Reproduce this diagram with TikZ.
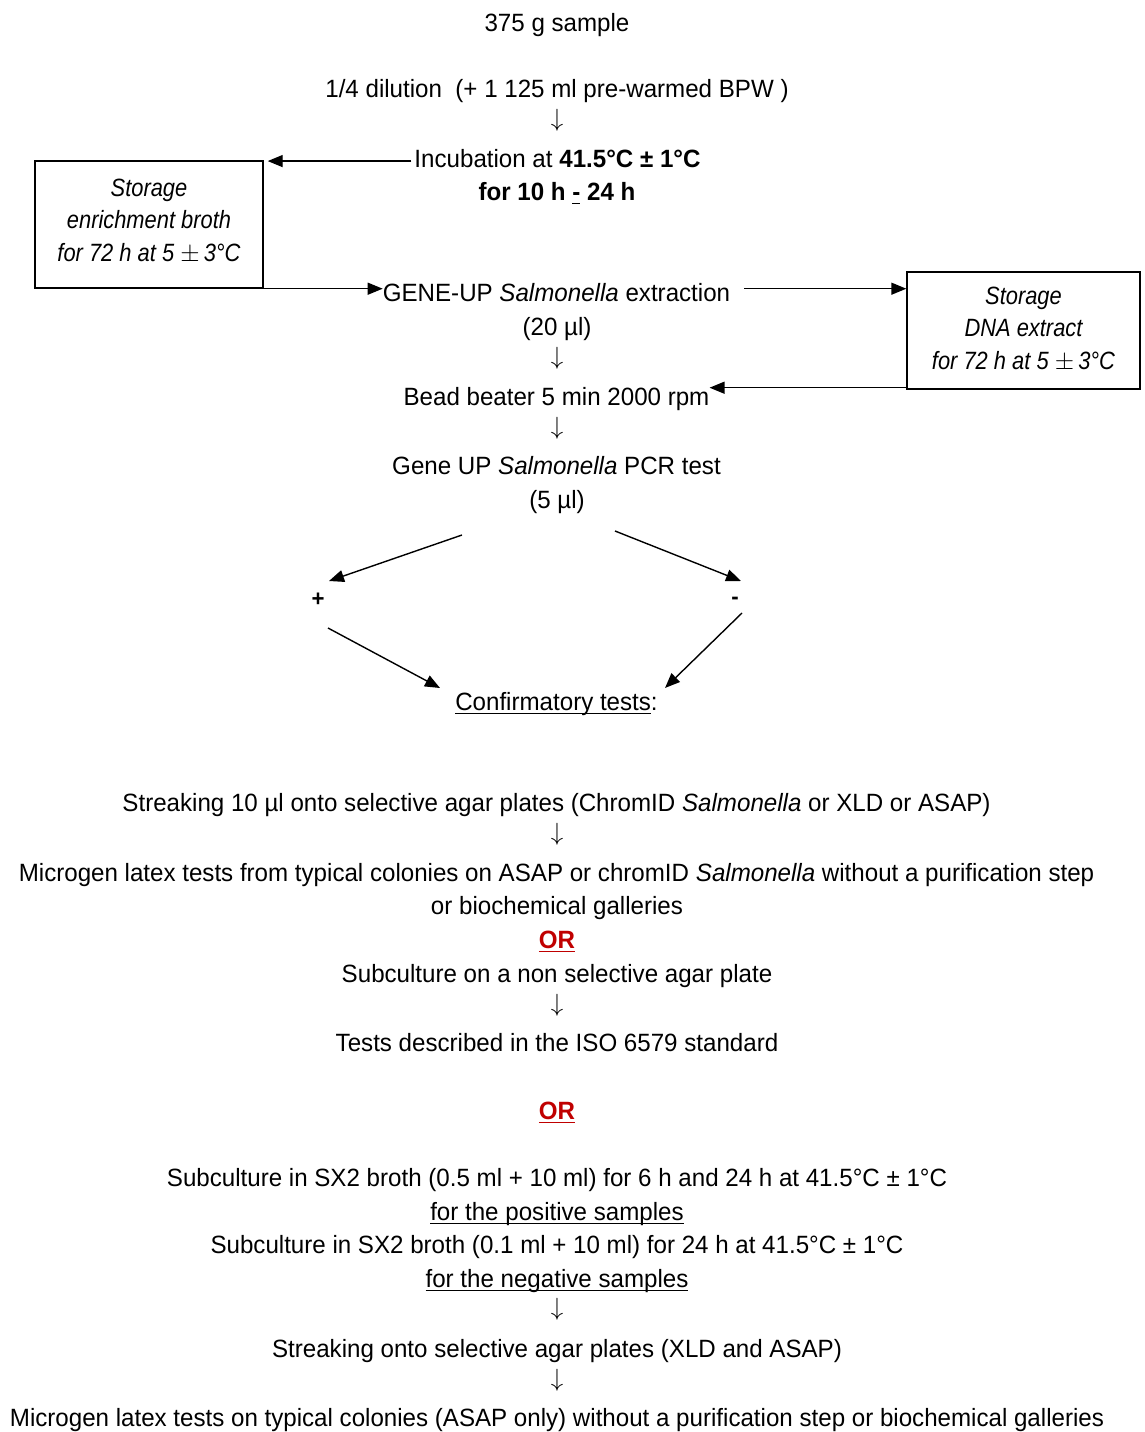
\documentclass[tikz,border=0pt]{standalone}
\usepackage{fontspec}
\setmainfont{Liberation Sans}[FakeStretch=0.965]
\newfontfamily\boxfont{Liberation Sans}[FakeStretch=0.875]
\usetikzlibrary{arrows.meta}
\newcommand\fs{\fontsize{25}{33}\selectfont}
\newcommand\myul[1]{\leavevmode\setbox0\hbox{#1}\rlap{\vrule height -2.6pt depth 4.3pt width \wd0}\box0\relax}
\definecolor{orred}{HTML}{C00000}
\begin{document}
\begin{tikzpicture}[x=1pt,y=-1pt,
  t/.style={inner sep=0pt, anchor=base, font=\fs},
  da/.style={inner sep=0pt, font=\fontsize{29}{29}\selectfont},
  sg/.style={inner sep=0pt, font=\fontsize{23}{23}\selectfont\bfseries},
  box/.style={draw, line width=1.4pt, inner sep=0pt, align=center, font=\boxfont\fontsize{25}{32.5}\selectfont\itshape},
  arr/.style={-{Triangle[length=15pt,width=12pt]}, line width=1.4pt},
  ortxt/.style={t, text=orred, font=\fs\bfseries}]
\useasboundingbox (0,0) rectangle (1144,1432);
\fill[white] (0,0) rectangle (1144,1432);

\node[t] (sample) at (557,31) {375 g sample};
\node[t] (dil) at (557,97) {1/4 dilution\ \ (+ 1 125 ml pre-warmed BPW )};
\node[da] (d1) at (557,120) {$\downarrow$};
\node[t] (inc1) at (557.5,167) {Incubation at \textbf{41.5°C ± 1°C}};
\node[t] (inc2) at (557,200) {\textbf{for 10 h \myul{-} 24 h}};
\node[box, minimum width=228pt, minimum height=127pt] (lbox) at (149,224.5) {Storage\\enrichment broth\\for 72 h at 5 $\pm$\,3°C\rule[-9pt]{0pt}{1pt}};
\node[t] (gene1) at (556.5,301) {GENE-UP \textit{Salmonella} extraction};
\node[t] (gene2) at (557,335) {(20 µl)};
\node[da] (d2) at (557,358) {$\downarrow$};
\node[box, minimum width=233pt, minimum height=117pt] (rbox) at (1023.5,330.5) {Storage\\DNA extract\\for 72 h at 5 $\pm$\,3°C\rule[-5pt]{0pt}{1pt}};
\node[t] (bead) at (556.5,405) {Bead beater 5 min 2000 rpm};
\node[da] (d3) at (557,428) {$\downarrow$};
\node[t] (pcr1) at (556.5,474) {Gene UP \textit{Salmonella} PCR test};
\node[t] (pcr2) at (557,508) {(5 µl)};
\node[sg] (plus) at (318,600) {+};
\node[sg] (minus) at (735,601) {-};
\node[t] (conf) at (556.5,710) {\myul{Confirmatory tests}:};

\node[t] (str1) at (556.5,811) {Streaking 10 µl onto selective agar plates (ChromID \textit{Salmonella} or XLD or ASAP)};
\node[da] (d4) at (557,834) {$\downarrow$};
\node[t] (mic1) at (556.5,881) {Microgen latex tests from typical colonies on ASAP or chromID \textit{Salmonella} without a purification step};
\node[t] (mic2) at (557,914) {or biochemical galleries};
\node[ortxt] (or1) at (557,948) {\myul{OR}};
\node[t] (sub) at (557,982) {Subculture on a non selective agar plate};
\node[da] (d5) at (557,1005) {$\downarrow$};
\node[t] (iso) at (557,1051) {Tests described in the ISO 6579 standard};
\node[ortxt] (or2) at (557,1119) {\myul{OR}};
\node[t] (sx1) at (557,1186) {Subculture in SX2 broth (0.5 ml + 10 ml) for 6 h and 24 h at 41.5°C ± 1°C};
\node[t] (pos) at (557,1220) {\myul{for the positive samples}};
\node[t] (sx2) at (557,1253) {Subculture in SX2 broth (0.1 ml + 10 ml) for 24 h at 41.5°C ± 1°C};
\node[t] (neg) at (557,1287) {\myul{for the negative samples}};
\node[da] (d6) at (557,1309) {$\downarrow$};
\node[t] (str2) at (557,1357) {Streaking onto selective agar plates (XLD and ASAP)};
\node[da] (d7) at (557,1380) {$\downarrow$};
\node[t] (mic3) at (557,1426) {Microgen latex tests on typical colonies (ASAP only) without a purification step or biochemical galleries};

% connectors
\draw[arr] ([xshift=-3pt,yshift=-3pt]inc1.west) -- ([xshift=4pt,yshift=-3pt]inc1.west -| lbox.east);
\draw[arr] (lbox.south east) -- (lbox.south east -| gene1.west);
\draw[arr] ([xshift=14pt]gene1.east |- lbox.south) -- (rbox.west |- lbox.south);
\draw[arr] ([yshift=2pt]rbox.south west) -- ([yshift=2pt]rbox.south west -| bead.east);

\coordinate (a1s) at (462,535); \coordinate (a1e) at (329,581);
\coordinate (a2s) at (615,531); \coordinate (a2e) at (741,581);
\coordinate (a3s) at (328,628); \coordinate (a3e) at (440,688);
\coordinate (a4s) at (742,613); \coordinate (a4e) at (665,688);
\draw[arr] (a1s) -- (a1e);
\draw[arr] (a2s) -- (a2e);
\draw[arr] (a3s) -- (a3e);
\draw[arr] (a4s) -- (a4e);
\end{tikzpicture}
\end{document}
